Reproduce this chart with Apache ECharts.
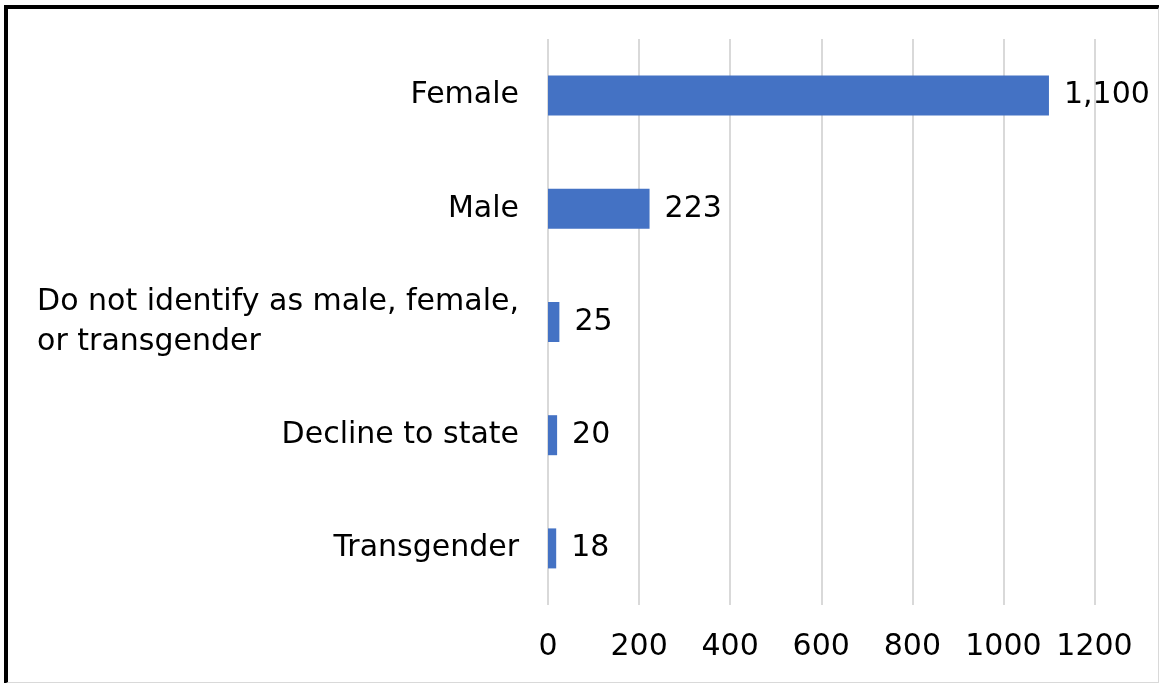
<!DOCTYPE html>
<html>
<head>
<meta charset="utf-8">
<script src="https://cdn.jsdelivr.net/npm/echarts@6/dist/echarts.min.js"></script>
<style>
html,body{margin:0;padding:0;background:#fff;}
#chart{position:absolute;left:0;top:0;width:1159px;height:683px;}
#frame{position:absolute;left:4px;top:5px;width:1150px;height:673px;border-top:4px solid #000;border-left:4px solid #000;border-right:2px solid #d9d9d9;border-bottom:2px solid #d9d9d9;pointer-events:none;}
</style>
</head>
<body>
<div id="chart"></div>
<div id="frame"></div>
<script>
const categories = ["Female", "Male", "Do not identify as male, female,\nor transgender", "Decline to state", "Transgender"];
const values = [1100, 223, 25, 20, 18];
const xTicks = [0, 200, 400, 600, 800, 1000, 1200];

const FONT = "'DejaVu Sans', sans-serif";
const FS = 30;
const chart = echarts.init(document.getElementById('chart'), null, {renderer: 'canvas'});
chart.setOption({
  animation: false,
  backgroundColor: '#fff',
  grid: {left: 548, right: 64.5, top: 39, bottom: 78, containLabel: false},
  xAxis: {
    type: 'value', min: xTicks[0], max: xTicks[xTicks.length - 1], interval: 200,
    axisLine: {show: false}, axisTick: {show: false},
    splitLine: {show: true, lineStyle: {color: '#d9d9d9', width: 2}},
    axisLabel: {color: '#000', fontSize: FS, fontFamily: FONT, margin: 27, formatter: v => String(v)}
  },
  yAxis: {
    type: 'category', data: categories, inverse: true,
    axisLine: {show: false}, axisTick: {show: false},
    axisLabel: {
      color: '#000', fontSize: FS, fontFamily: FONT, margin: 29, align: 'right', lineHeight: 40,
      formatter: v => v.indexOf('\n') >= 0 ? v.split('\n').map(s => '{w|' + s + '}').join('\n') : v,
      rich: {w: {fontSize: FS, fontFamily: FONT, color: '#000', lineHeight: 40, align: 'left'}}
    }
  },
  series: [{
    type: 'bar', data: values, barWidth: 40,
    itemStyle: {color: '#4472C4'},
    label: {
      show: true, position: 'right', distance: 15, color: '#000', fontSize: FS, fontFamily: FONT,
      formatter: p => p.value.toLocaleString('en-US')
    }
  }]
});
</script>
</body>
</html>
